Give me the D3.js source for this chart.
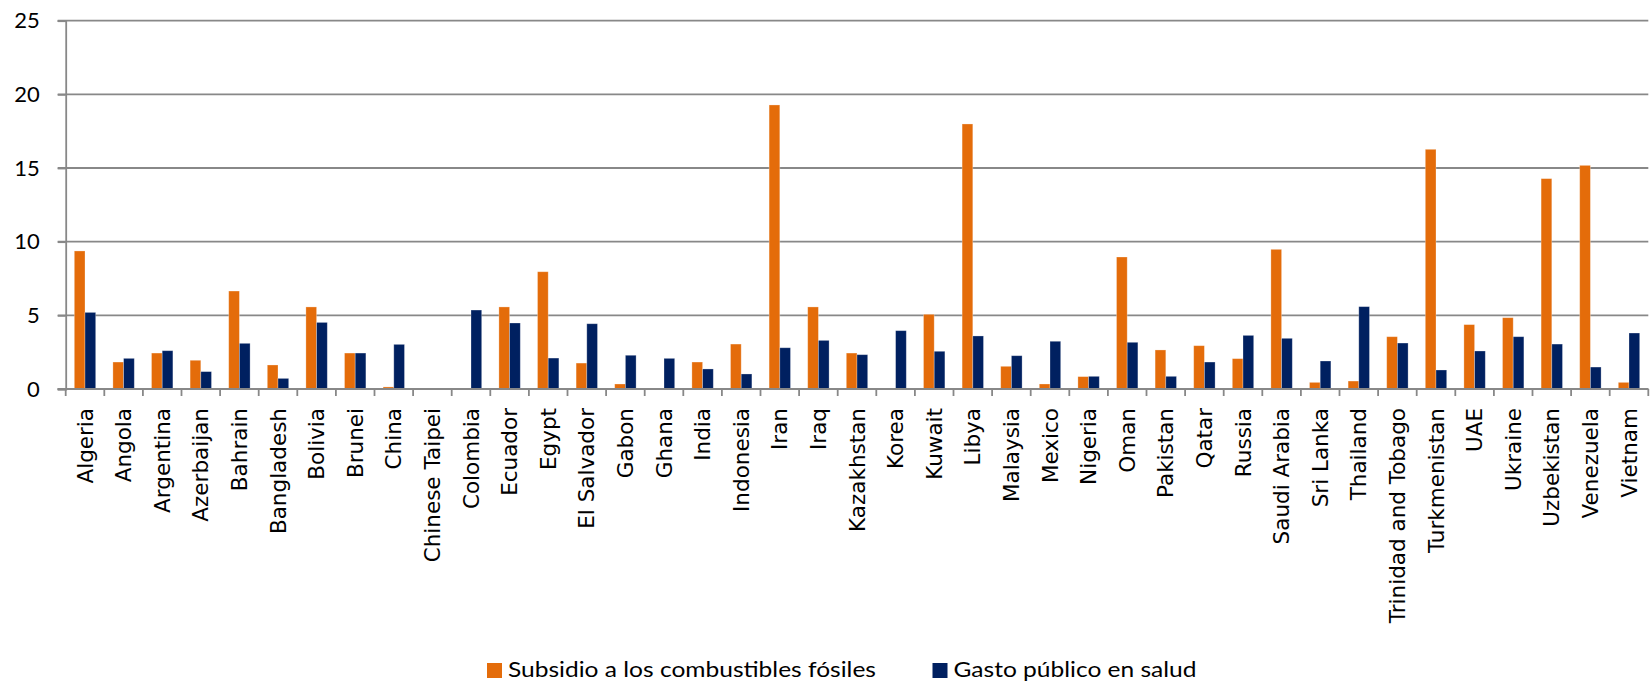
<!DOCTYPE html>
<html>
<head>
<meta charset="utf-8">
<script src="https://cdn.jsdelivr.net/npm/d3@7"></script>
<style>
  html, body { margin: 0; padding: 0; background: #ffffff; }
  svg { display: block; }
</style>
</head>
<body>
<svg id="chart" width="1652" height="682"></svg>
<script>
const categories = ["Algeria","Angola","Argentina","Azerbaijan","Bahrain","Bangladesh","Bolivia","Brunei","China","Chinese Taipei","Colombia","Ecuador","Egypt","El Salvador","Gabon","Ghana","India","Indonesia","Iran","Iraq","Kazakhstan","Korea","Kuwait","Libya","Malaysia","Mexico","Nigeria","Oman","Pakistan","Qatar","Russia","Saudi Arabia","Sri Lanka","Thailand","Trinidad and Tobago","Turkmenistan","UAE","Ukraine","Uzbekistan","Venezuela","Vietnam"];
const subsidio = [9.37,1.83,2.44,1.95,6.65,1.63,5.57,2.44,0.14,0,0,5.57,7.96,1.76,0.34,0,1.83,3.05,19.28,5.57,2.44,0,5.07,17.99,1.54,0.34,0.84,8.96,2.65,2.94,2.06,9.48,0.45,0.54,3.55,16.27,4.37,4.84,14.28,15.18,0.45];
const salud = [5.2,2.08,2.6,1.18,3.1,0.72,4.52,2.44,3.03,0,5.36,4.48,2.1,4.43,2.29,2.08,1.36,1.02,2.8,3.3,2.33,3.96,2.56,3.6,2.26,3.24,0.86,3.17,0.86,1.83,3.64,3.44,1.9,5.59,3.12,1.29,2.58,3.55,3.05,1.49,3.8];
const seriesNames = ["Subsidio a los combustibles fósiles", "Gasto público en salud"];
const seriesColors = ["#E46C0A", "#002060"];
const yTicks = [0, 5, 10, 15, 20, 25];

const svg = d3.select("#chart");
const mLeft = 65.7, mRight = 1648.3, mTop = 20.7, mBottom = 389;
const gridColor = "#888888";

const x = d3.scaleBand().domain(categories).range([mLeft, mRight]).padding(0);
const y = d3.scaleLinear().domain([0, 25]).range([mBottom, mTop]);
const bw = x.bandwidth();
const barW = bw * 0.277;

// gridlines
svg.append("g").selectAll("line").data(yTicks).join("line")
  .attr("x1", mLeft - 8).attr("x2", mRight)
  .attr("y1", d => y(d)).attr("y2", d => y(d))
  .attr("stroke", gridColor).attr("stroke-width", 1.8);

// y axis
const yAxis = svg.append("g").attr("transform", `translate(${mLeft},0)`)
  .call(d3.axisLeft(y).tickValues(yTicks).tickSize(8).tickPadding(18).tickFormat(d3.format("d")));
yAxis.select(".domain").attr("stroke", gridColor).attr("stroke-width", 1.8);
yAxis.selectAll(".tick line").attr("stroke", gridColor).attr("stroke-width", 1.8);
yAxis.selectAll(".tick text").attr("fill", "#000").style("font-family", "Lato, 'Open Sans', sans-serif").style("font-size", "22px");

// x axis ticks at category boundaries
const boundaries = categories.map(c => x(c)).concat([mRight]);
svg.append("g").selectAll("line").data(boundaries).join("line")
  .attr("x1", d => d).attr("x2", d => d)
  .attr("y1", mBottom).attr("y2", mBottom + 7)
  .attr("stroke", gridColor).attr("stroke-width", 1.8);

// bars
const data = categories.map((c, i) => ({ c, vals: [subsidio[i], salud[i]] }));
const groups = svg.append("g").selectAll("g").data(data).join("g");
groups.selectAll("rect").data(d => d.vals.map((v, k) => ({ c: d.c, v, k }))).join("rect")
  .attr("x", d => x(d.c) + bw / 2 - barW + d.k * barW)
  .attr("width", barW)
  .attr("y", d => y(d.v))
  .attr("height", d => y(0) - y(d.v))
  .attr("fill", d => seriesColors[d.k])
  .attr("stroke", "rgba(255,255,255,0.35)")
  .attr("stroke-width", 0.8);

// redraw x axis line on top
svg.append("line").attr("x1", mLeft - 8).attr("x2", mRight).attr("y1", mBottom).attr("y2", mBottom)
  .attr("stroke", gridColor).attr("stroke-width", 1.8);

// x labels
svg.append("g").selectAll("text").data(categories).join("text")
  .attr("transform", d => `translate(${x(d) + bw / 2},408) rotate(-90)`)
  .attr("text-anchor", "end")
  .attr("dominant-baseline", "central")
  .style("font-family", "'DejaVu Sans', Verdana, sans-serif")
  .style("font-size", "21.5px")
  .attr("fill", "#000")
  .text(d => d);

// legend
const legendX = [487, 932.5];
const legendTextLen = [368, 243];
const leg = svg.append("g").selectAll("g").data(seriesNames).join("g");
leg.append("rect")
  .attr("x", (d, i) => legendX[i]).attr("y", 663)
  .attr("width", 15).attr("height", 15)
  .attr("fill", (d, i) => seriesColors[i]);
leg.append("text")
  .attr("x", (d, i) => legendX[i] + 21)
  .attr("y", 677)
  .style("font-family", "Lato, 'Open Sans', sans-serif")
  .style("font-size", "22px")
  .attr("fill", "#000")
  .attr("textLength", (d, i) => legendTextLen[i])
  .attr("lengthAdjust", "spacingAndGlyphs")
  .text(d => d);
</script>
</body>
</html>
